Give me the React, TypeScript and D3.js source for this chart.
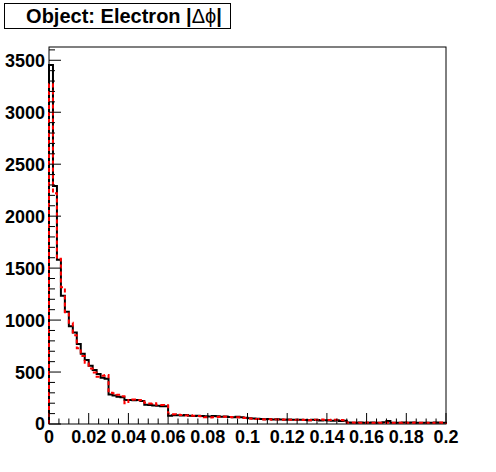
import React from 'react';
import * as d3 from 'd3';

// |dphi| histogram, 100 bins of 0.002 from 0 to 0.2
const binWidth = 0.002;
const xRange = [0, 0.2];

const blackCounts = [
  3455, 2290, 1580, 1235, 1080, 940, 880, 770, 675, 615,
  560, 520, 480, 445, 435, 285, 275, 262, 258, 232,
  230, 228, 232, 222, 185, 182, 178, 175, 172, 170,
  80, 85, 84, 82, 86, 80, 78, 80, 76, 74,
  72, 78, 74, 70, 72, 68, 66, 70, 64, 60,
  56, 52, 50, 48, 46, 48, 44, 46, 44, 42,
  44, 42, 40, 42, 38, 36, 40, 38, 34, 36,
  34, 32, 36, 30, 32, 14, 12, 13, 15, 11,
  12, 14, 13, 12, 16, 28, 12, 11, 13, 15,
  12, 14, 13, 11, 12, 13, 12, 14, 11, 12,
];

const redCounts = [
  3270, 2220, 1590, 1315, 1075, 975, 855, 730, 655, 590,
  535, 495, 455, 465, 472, 300, 295, 282, 268, 200,
  232, 235, 228, 232, 205, 198, 200, 185, 183, 180,
  100, 94, 90, 86, 82, 84, 80, 78, 74, 66,
  62, 64, 68, 72, 70, 68, 64, 66, 62, 58,
  54, 50, 48, 46, 44, 46, 42, 44, 42, 44,
  40, 42, 40, 38, 40, 36, 38, 40, 44, 42,
  38, 40, 42, 38, 36, 12, 14, 11, 13, 12,
  15, 12, 11, 13, 14, 12, 13, 12, 11, 14,
  13, 12, 14, 13, 12, 11, 13, 12, 14, 13,
];

const yMajorTicks = [0, 500, 1000, 1500, 2000, 2500, 3000, 3500];
const xMajorTicks = [0, 0.02, 0.04, 0.06, 0.08, 0.1, 0.12, 0.14, 0.16, 0.18, 0.2];
const titleText = 'Object: Electron |';

const W = 496;
const H = 472;
const frame = { left: 49, right: 446, top: 47, bottom: 424 };
const font = "'Liberation Sans', Arial, Helvetica, sans-serif";

export default function App() {
  const yMax = (d3.max(blackCounts.concat(redCounts)) as number) * 1.05;
  const x = d3.scaleLinear().domain(xRange).range([frame.left, frame.right]);
  const y = d3.scaleLinear().domain([0, yMax]).range([frame.bottom, frame.top]);

  const stepPath = (vals: number[]) => {
    let d = `M${x(0)},${y(0)}`;
    vals.forEach((v, i) => {
      d += `V${y(v)}H${x((i + 1) * binWidth)}`;
    });
    d += `V${y(0)}`;
    return d;
  };

  const yMinor = d3.range(0, yMax, 100).filter((v) => v % 500 !== 0);
  const xMinor = d3.range(0, 0.2001, 0.005).filter((v) => Math.abs(v / 0.02 - Math.round(v / 0.02)) > 1e-6);

  const fmt = (v: number) => String(+v.toFixed(2));

  return (
    <svg width={W} height={H} style={{ position: 'absolute', left: 0, top: 0, background: '#fff' }}>
      <rect x={0} y={0} width={W} height={H} fill="#fff" />
      {/* frame */}
      <rect x={frame.left} y={frame.top} width={frame.right - frame.left} height={frame.bottom - frame.top}
        fill="none" stroke="#000" strokeWidth={1} />

      {/* histograms */}
      <path d={stepPath(blackCounts)} fill="none" stroke="#000" strokeWidth={2} />
      <path d={stepPath(redCounts)} fill="none" stroke="#ff0000" strokeWidth={2} strokeDasharray="4,3" />

      {/* y axis */}
      {yMajorTicks.map((t) => (
        <g key={'ym' + t}>
          <line x1={frame.left} x2={frame.left + 12} y1={y(t)} y2={y(t)} stroke="#000" />
          <text x={frame.left - 4} y={y(t)} dy="0.36em" textAnchor="end" fontFamily={font}
            fontWeight="bold" fontSize={18}>{t}</text>
        </g>
      ))}
      {yMinor.map((t) => (
        <line key={'yn' + t} x1={frame.left} x2={frame.left + 6} y1={y(t)} y2={y(t)} stroke="#000" />
      ))}

      {/* x axis */}
      {xMajorTicks.map((t) => (
        <g key={'xm' + t}>
          <line x1={x(t)} x2={x(t)} y1={frame.bottom} y2={frame.bottom - 11} stroke="#000" />
          <text x={x(t)} y={443} textAnchor="middle" fontFamily={font}
            fontWeight="bold" fontSize={18}>{fmt(t)}</text>
        </g>
      ))}
      {xMinor.map((t) => (
        <line key={'xn' + t} x1={x(t)} x2={x(t)} y1={frame.bottom} y2={frame.bottom - 5.5} stroke="#000" />
      ))}

      {/* title */}
      <rect x={4.5} y={3.5} width={226} height={25} fill="#fff" stroke="#000" strokeWidth={1} />
      <text x={124} y={23.3} textAnchor="middle" fontFamily={font} fontSize={20}>
        <tspan fontWeight="bold">{titleText}</tspan>
        <tspan fontWeight="normal">{'\u0394\u03D5'}</tspan>
        <tspan fontWeight="bold">|</tspan>
      </text>
    </svg>
  );
}
